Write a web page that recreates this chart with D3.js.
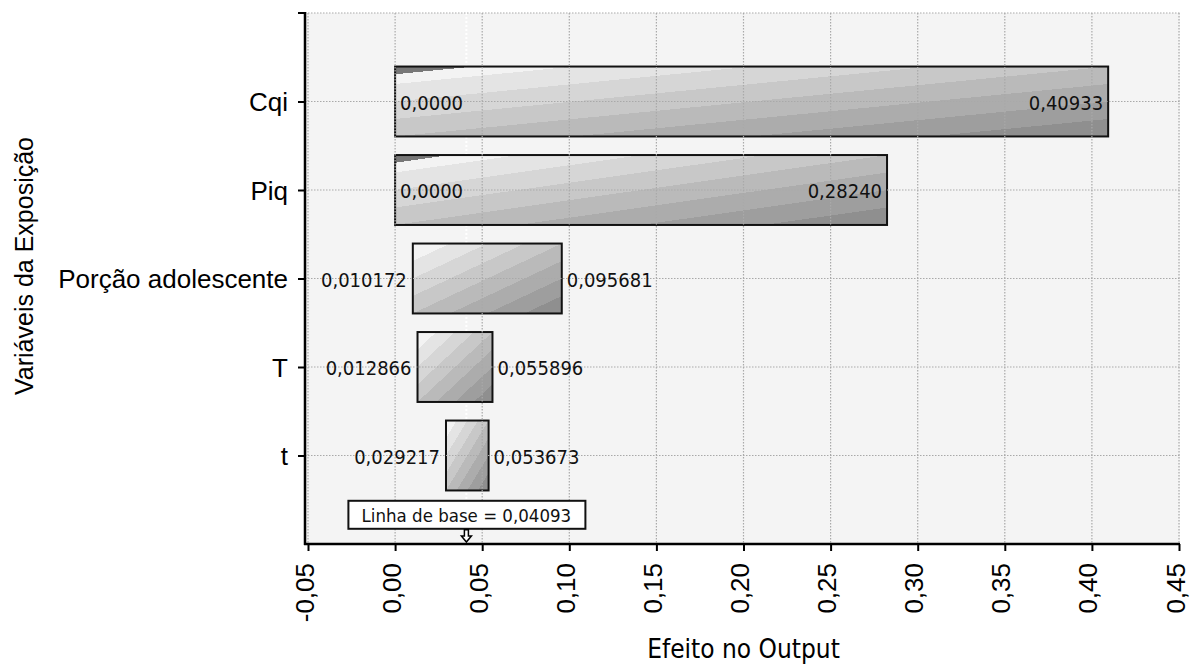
<!DOCTYPE html>
<html>
<head>
<meta charset="utf-8">
<script src="https://cdn.jsdelivr.net/npm/d3@7"></script>
<style>
  html, body { margin: 0; padding: 0; background: #ffffff; }
  svg { display: block; }
</style>
</head>
<body>
<svg id="chart" width="1190" height="666"></svg>
<script>
// ---- data ----
const categories = ["Cqi", "Piq", "Porção adolescente", "T", "t"];
const lowValues  = [0.0, 0.0, 0.010172, 0.012866, 0.029217];
const highValues = [0.40933, 0.28240, 0.095681, 0.055896, 0.053673];
const baselineValue = 0.04093;
const xTicks = [-0.05, 0.00, 0.05, 0.10, 0.15, 0.20, 0.25, 0.30, 0.35, 0.40, 0.45];
const xTitle = "Efeito no Output";
const yTitle = "Variáveis da Exposição";
const baselineText = "Linha de base = ";

// ---- setup ----
const svg = d3.select("#chart");
const plot = { left: 305, right: 1180, top: 13, bottom: 544 };

const locale = d3.formatLocale({ decimal: ",", thousands: ".", grouping: [3], currency: ["", ""], minus: "-" });
const tickFmt = locale.format(".2f");
const valFmt = locale.format(".5g");
const baseFmt = locale.format(".4g");

const x = d3.scaleLinear().domain([-0.05, 0.45]).range([308, 1179]);
const y = d3.scalePoint().domain(categories).range([101.5, 455.5]);
const step = y.step();
const barH = step * 0.79;

const condensed = "'DejaVu Sans Condensed', 'DejaVu Sans', sans-serif";
const arial = "'Liberation Sans', Arial, sans-serif";

// gradient definitions
const defs = svg.append("defs");
const shades = ["#f3f3f3", "#e4e4e4", "#d6d6d6", "#c8c8c8", "#bababa", "#acacac", "#9e9e9e", "#8f8f8f"];
function makeGrad(id, darkCorner) {
  const g = defs.append("linearGradient").attr("id", id)
    .attr("x1", 0).attr("y1", 0).attr("x2", 1).attr("y2", 1);
  const n = shades.length;
  let start = 0;
  if (darkCorner) {
    g.append("stop").attr("offset", 0).attr("stop-color", "#777");
    g.append("stop").attr("offset", 0.055).attr("stop-color", "#777");
    start = 0.055;
  }
  shades.forEach((c, i) => {
    const a = i === 0 ? start : i / n;
    const b = (i + 1) / n;
    g.append("stop").attr("offset", a).attr("stop-color", c);
    g.append("stop").attr("offset", b).attr("stop-color", c);
  });
}
makeGrad("gWide", true);
makeGrad("gNarrow", false);

// plot background
svg.append("rect")
  .attr("x", plot.left).attr("y", plot.top)
  .attr("width", plot.right - plot.left).attr("height", plot.bottom - plot.top)
  .attr("fill", "#f4f4f4");

// baseline white dotted line (under bars)
svg.append("line")
  .attr("x1", x(baselineValue)).attr("x2", x(baselineValue))
  .attr("y1", plot.top).attr("y2", plot.bottom)
  .attr("stroke", "#ffffff").attr("stroke-width", 2)
  .attr("stroke-dasharray", "2,2");

// bars
const rows = categories.map((c, i) => ({ cat: c, lo: lowValues[i], hi: highValues[i] }));
svg.append("g").selectAll("rect").data(rows).join("rect")
  .attr("x", d => x(d.lo))
  .attr("y", d => y(d.cat) - barH / 2)
  .attr("width", d => x(d.hi) - x(d.lo))
  .attr("height", barH)
  .attr("fill", d => (x(d.hi) - x(d.lo)) > 300 ? "url(#gWide)" : "url(#gNarrow)")
  .attr("stroke", "#111")
  .attr("stroke-width", 2);

// gridlines (drawn over bars)
const grid = svg.append("g");
grid.selectAll("line.v").data(xTicks).join("line")
  .attr("class", "v")
  .attr("x1", d => x(d)).attr("x2", d => x(d))
  .attr("y1", plot.top).attr("y2", plot.bottom)
  .attr("stroke", "#a9a9a9").attr("stroke-width", 1.2)
  .attr("stroke-dasharray", "1.5,1.5");
grid.selectAll("line.h").data([null].concat(categories)).join("line")
  .attr("class", "h")
  .attr("x1", plot.left).attr("x2", plot.right)
  .attr("y1", d => d === null ? plot.top : y(d))
  .attr("y2", d => d === null ? plot.top : y(d))
  .attr("stroke", "#a9a9a9").attr("stroke-width", 1.2)
  .attr("stroke-dasharray", "1.5,1.5");

// value labels
const lab = svg.append("g")
  .style("font-family", condensed).style("font-size", "20px").attr("fill", "#111");
rows.forEach(d => {
  const wide = (x(d.hi) - x(d.lo)) > 200;
  lab.append("text")
    .attr("x", wide ? x(d.lo) + 5 : x(d.lo) - 6)
    .attr("y", y(d.cat)).attr("dy", "0.42em")
    .attr("text-anchor", wide ? "start" : "end")
    .text(valFmt(d.lo));
  lab.append("text")
    .attr("x", wide ? x(d.hi) - 5 : x(d.hi) + 5)
    .attr("y", y(d.cat)).attr("dy", "0.42em")
    .attr("text-anchor", wide ? "end" : "start")
    .text(valFmt(d.hi));
});

// x axis
const xAxis = d3.axisBottom(x).tickValues(xTicks).tickSize(7).tickSizeOuter(0).tickFormat(tickFmt);
const gx = svg.append("g").attr("transform", `translate(0,${plot.bottom})`).call(xAxis);
gx.select(".domain").remove();
gx.selectAll(".tick line").attr("stroke", "#000").attr("stroke-width", 2);
gx.selectAll(".tick text")
  .attr("transform", "rotate(-90)")
  .attr("x", -19).attr("y", 0).attr("dy", "5px")
  .attr("text-anchor", "end")
  .style("font-family", arial).style("font-size", "26px").attr("fill", "#000");
svg.append("line")
  .attr("x1", plot.left - 1).attr("x2", plot.right)
  .attr("y1", plot.bottom).attr("y2", plot.bottom)
  .attr("stroke", "#000").attr("stroke-width", 2.5);

// y axis
const yAxis = d3.axisLeft(y).tickSize(7).tickSizeOuter(0).tickPadding(10);
const gy = svg.append("g").attr("transform", `translate(${plot.left},0)`).call(yAxis);
gy.select(".domain").remove();
gy.selectAll(".tick line").attr("stroke", "#000").attr("stroke-width", 2);
gy.selectAll(".tick text")
  .attr("dy", "0.35em")
  .style("font-family", arial).style("font-size", "26px").attr("fill", "#000");
svg.append("line")
  .attr("x1", plot.left).attr("x2", plot.left)
  .attr("y1", plot.top - 1).attr("y2", plot.bottom + 1)
  .attr("stroke", "#000").attr("stroke-width", 2.5);
svg.append("line")
  .attr("x1", plot.left - 7).attr("x2", plot.left)
  .attr("y1", plot.top).attr("y2", plot.top)
  .attr("stroke", "#000").attr("stroke-width", 2);

// baseline label box + arrow
const bx = x(baselineValue);
const boxCy = y(categories[categories.length - 1]) + step * 0.67;
const bl = svg.append("g");
const boxW = 237, boxH = 28;
bl.append("rect")
  .attr("x", bx - 118).attr("y", boxCy - boxH / 2)
  .attr("width", boxW).attr("height", boxH)
  .attr("fill", "#fff").attr("stroke", "#111").attr("stroke-width", 2);
bl.append("text")
  .attr("x", bx).attr("y", boxCy).attr("dy", "0.38em")
  .attr("text-anchor", "middle")
  .style("font-family", condensed).style("font-size", "18.5px").attr("fill", "#111")
  .text(baselineText + baseFmt(baselineValue));
const aTop = boxCy + boxH / 2 + 1, aBot = plot.bottom - 2;
bl.append("path")
  .attr("d", `M${bx - 2},${aTop} L${bx + 2},${aTop} L${bx + 2},${aBot - 6} L${bx + 5},${aBot - 6} L${bx},${aBot} L${bx - 5},${aBot - 6} L${bx - 2},${aBot - 6} Z`)
  .attr("fill", "#fff").attr("stroke", "#000").attr("stroke-width", 1.5);

// titles
svg.append("text")
  .attr("x", (x.range()[0] + x.range()[1]) / 2).attr("y", 658)
  .attr("text-anchor", "middle")
  .style("font-family", condensed).style("font-size", "26px").attr("fill", "#000")
  .text(xTitle);
svg.append("text")
  .attr("transform", "translate(33,266) rotate(-90)")
  .attr("text-anchor", "middle")
  .style("font-family", arial).style("font-size", "25px").attr("fill", "#000")
  .text(yTitle);
</script>
</body>
</html>
